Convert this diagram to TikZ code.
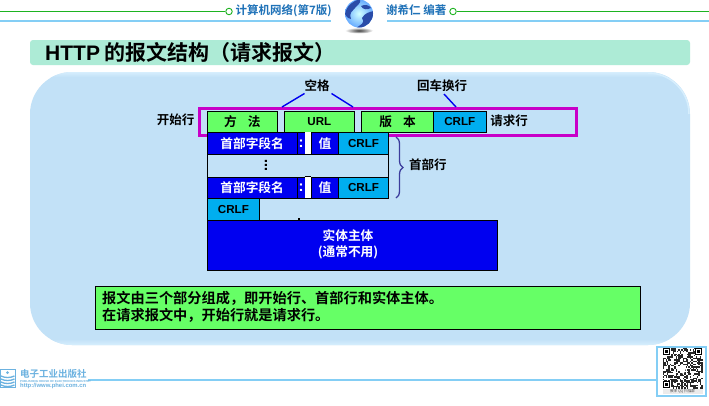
\documentclass[tikz,border=0pt]{standalone}
\usepackage{fontspec}
\setmainfont{Liberation Sans}[BoldFont={Liberation Sans Bold}]
\newfontfamily\cjkb{Noto Sans CJK SC Bold}
\newfontfamily\cjkr{Noto Sans CJK SC}
\newfontfamily\latb{Liberation Sans Bold}
\usetikzlibrary{decorations.pathreplacing,shadings}
\definecolor{panel}{HTML}{C2E1F7}
\definecolor{panellight}{HTML}{D6EEFD}
\definecolor{titlebar}{HTML}{ADEBD6}
\definecolor{grn}{HTML}{66FF66}
\definecolor{fldblue}{HTML}{0000F0}
\definecolor{cyanbox}{HTML}{00AEEF}
\definecolor{magen}{HTML}{C800C8}
\definecolor{hdrblue}{HTML}{1F72B8}
\definecolor{hdrline}{HTML}{84CEF5}
\definecolor{hdrgreen}{HTML}{1DB321}
\definecolor{bracecol}{HTML}{3C3C9C}
\definecolor{logo}{HTML}{6CB2E0}
\definecolor{globeland}{HTML}{2A4CA8}
\tikzset{
  fld/.style={draw=black,line width=0.8pt,inner sep=0pt,font=\fontsize{12.7}{14}\cjkb},
  greenf/.style={fld,fill=grn,text=black},
  bluef/.style={fld,fill=fldblue,text=white},
  cyanf/.style={fld,fill=cyanbox,text=black},
  lab/.style={inner sep=0pt,font=\fontsize{12.5}{14}\cjkb,text=black},
  hdr/.style={inner sep=0pt,font=\fontsize{11.5}{13}\cjkb,text=hdrblue},
  leader/.style={draw=fldblue,line width=1.4pt},
  ring/.style={circle,draw=hdrgreen,line width=0.9pt,fill=white,minimum size=6.5pt,inner sep=0pt}
}
\newcommand{\bx}[7]{\node[#1,minimum width=#5 pt - #3 pt,minimum height=#6 pt - #4 pt,anchor=north west] (#2) at (#3,#4) {#7};}
\newcommand{\crlf}{{\fontsize{11.6}{14}\latb CRLF}}
\newcommand{\colonmark}{{\fontsize{15}{15}\latb :}}
\begin{document}
\begin{tikzpicture}[x=1pt,y=-1pt]
\useasboundingbox (0,0) rectangle (709,405);
\fill[white] (0,0) rectangle (709,405);
% header
\node[ring] (rl) at (229,11.5) {};
\node[ring] (rr) at (453,11.5) {};
\coordinate (gl) at (0,11.5);
\coordinate (gr) at (709,11.5);
\draw[hdrgreen,line width=0.9pt] (gl) -- (rl);
\draw[hdrgreen,line width=0.9pt] (rr) -- (gr);
\fill[hdrline] (0,19.6) rectangle (331,21.6);
\fill[hdrline] (387,19.6) rectangle (709,21.6);
\node[hdr,anchor=west] (t1) at (235.5,10.5) {计算机网络(第7版)};
\node[hdr,anchor=west] (t2) at (386,10.5) {谢希仁 编著};
% globe
\shade[inner color=black!75,outer color=white] (359,30.5) ellipse (14 and 3);
\shade[inner color=cyan!18,outer color=cyan!45!blue!60] (359,13.5) circle (14);
\begin{scope}
\clip (359,13.5) circle (14);
\fill[globeland] (345,14) .. controls (347,5) and (353,1) .. (360,-1) .. controls (362,3) and (356,6) .. (355,8) .. controls (352,12) and (349,12) .. (351,19) .. controls (347,18) and (346,16) .. (345,14) -- cycle;
\fill[globeland] (362,18) .. controls (365,13) and (369,12) .. (374,11) -- (374,18) .. controls (371,24) and (365,28) .. (356,28) .. controls (360,25) and (366,23) .. (362,18) -- cycle;
\fill[globeland] (361,6) .. controls (365,4) and (369,5) .. (371,8) .. controls (367,10) and (363,10) .. (361,6) -- cycle;
\end{scope}
% title bar
\fill[titlebar,rounded corners=3pt] (30,40) rectangle (690,65);
\node[inner sep=0pt,anchor=west,font=\fontsize{21}{24}\cjkb,text=black] (title) at (45,52.5) {{\latb HTTP} 的报文结构（请求报文）};
% panel
\fill[panel,rounded corners=42pt] (30,72) rectangle (690,345);
\begin{scope}
\clip[rounded corners=42pt] (30,72) rectangle (690,345);
\shade[top color=panellight,bottom color=panel] (30,72) rectangle (690,77);
\shade[top color=panel,bottom color=panellight] (30,339) rectangle (690,345);
\end{scope}
\draw[panellight,line width=1.5pt] (689,114) arc[start angle=0,end angle=-90,radius=41];
% start line
\bx{greenf}{m}{206.7}{111}{277.3}{132}{方\hspace{11pt}法}
\bx{greenf}{u}{284}{111}{354}{132}{\fontsize{11.6}{14}\latb URL}
\bx{greenf}{v}{361.3}{111}{433}{132}{版\hspace{11pt}本}
\bx{cyanf}{c}{433}{111}{485.7}{132}{\crlf}
\coordinate (ma) at (199.5,108.5);
\coordinate (mb) at (576.5,135.5);
\draw[magen,line width=2.8pt] (ma) rectangle (mb);
% labels
\node[lab] (start) at (175.5,120) {开始行};
\node[lab] (req) at (509,121) {请求行};
\node[lab] (sp) at (317,86) {空格};
\node[lab] (crlab) at (442,86) {回车换行};
\coordinate (s1) at (282,107);
\coordinate (s2) at (353,107);
\coordinate (s3) at (456,107);
\coordinate (sa) at (304.5,93.5);
\coordinate (sb) at (331.5,93.5);
\coordinate (sc) at (444,94);
\draw[leader] (sa) -- (s1);
\draw[leader] (sb) -- (s2);
\draw[leader] (sc) -- (s3);
% header lines
\bx{fld}{r2}{206.7}{154}{388.3}{176.7}{}
\bx{bluef}{n1}{206.7}{132}{296.7}{154}{首部字段名}
\bx{bluef}{k1}{296.7}{132}{304.7}{154}{\colonmark}
\bx{bluef}{w1}{311.3}{132}{338}{154}{值}
\bx{cyanf}{e1}{338}{132}{388.3}{154}{\crlf}
\bx{bluef}{n2}{206.7}{176.7}{296.7}{198.3}{首部字段名}
\bx{bluef}{k2}{296.7}{176.7}{304.7}{198.3}{\colonmark}
\bx{bluef}{w2}{311.3}{176.7}{338}{198.3}{值}
\bx{cyanf}{e2}{338}{176.7}{388.3}{198.3}{\crlf}
\fill[white] (304.9,132.4) rectangle (311,153.6);
\fill[white] (304.9,177.1) rectangle (311,197.9);
\draw[black,line width=0.8pt] (304.7,154) -- (311.3,154) (304.7,176.7) -- (311.3,176.7) (304.7,198.3) -- (311.3,198.3);
\node[inner sep=0pt,font=\fontsize{15}{15}\latb] (dots) at (266,165.5) {\rotatebox{90}{...}};
% brace
\draw[bracecol,line width=1.3pt,decorate,decoration={brace,amplitude=7pt}] (396,137) -- (396,198);
\node[lab,anchor=west] (hl) at (409,165) {首部行};
% crlf & body
\bx{cyanf}{e3}{206.7}{198.3}{259.3}{220.3}{\crlf}
\fill[black] (298,217.6) rectangle (300,220);
\bx{bluef}{body}{206.7}{220.3}{496.7}{269.5}{}
\node[inner sep=0pt,align=center,font=\fontsize{12.7}{15.5}\cjkb,text=white] (bt) at (348,244.5) {实体主体\\(通常不用)};
% note
\node[draw=black,line width=0.8pt,fill=grn,anchor=north west,minimum width=545pt,minimum height=43pt,inner sep=0pt] (note) at (94.5,285.5) {};
\node[inner sep=0pt,anchor=west,align=left,font=\fontsize{14.2}{17}\cjkb,text=black] (nt) at (102,307) {报文由三个部分组成，即开始行、首部行和实体主体。\\在请求报文中，开始行就是请求行。};
% footer
\fill[hdrline] (88,379) rectangle (656,381);
\fill[logo] (0,369) rectangle (15.5,388);
\fill[white] (1,370) rectangle (14.5,387);
\foreach \yy in {376,379,382,385}{\draw[logo,line width=1.3pt] (1,\yy) .. controls (5,\yy+2) and (10,\yy+2) .. (14.5,\yy);}
\fill[logo] (7.5,372.5) circle (1.5);
\node[inner sep=0pt,anchor=west,font=\fontsize{9.5}{12}\cjkb,text=logo] (pub) at (20,373.5) {电子工业出版社};
\node[inner sep=0pt,anchor=west,font=\fontsize{2.9}{3}\latb,text=logo] (pub2) at (20,381) {PUBLISHING HOUSE OF ELECTRONICS INDUSTRY};
\node[inner sep=0pt,anchor=west,font=\fontsize{5.9}{7}\latb,text=logo] (pub3) at (20,386.3) {http://www.phei.com.cn};
% QR
\fill[white] (656,346) rectangle (707,397);
\draw[hdrline,line width=2pt] (657,347) rectangle (706,396);
\fill[black!8] (662.5,389) rectangle (702.5,394);
\pgfmathsetseed{4242}
\foreach \i in {0,...,27}{\foreach \j in {0,...,28}{
  \pgfmathsetmacro{\r}{rnd}
  \ifdim \r pt<0.5pt \fill[black!85] ({662.7+\i*1.43},{348+\j*1.41}) rectangle ++(1.43,1.41);\fi
}}
\foreach \px/\py in {663/348,695/348,663/381}{
  \fill[white] (\px-0.5,\py-0.5) rectangle ++(8.4,8.4);
  \fill[black] (\px,\py) rectangle ++(7,7);
  \fill[white] (\px+1,\py+1) rectangle ++(5,5);
  \fill[black] (\px+2,\py+2) rectangle ++(3,3);
}
\fill[white] (682.5,369) ellipse (3.2 and 4.5);
\node[inner sep=0pt,font=\fontsize{3.6}{4}\cjkr,text=black!70] (qrt) at (682.5,391.6) {教师 QQ 扫描群};
\end{tikzpicture}
\end{document}
